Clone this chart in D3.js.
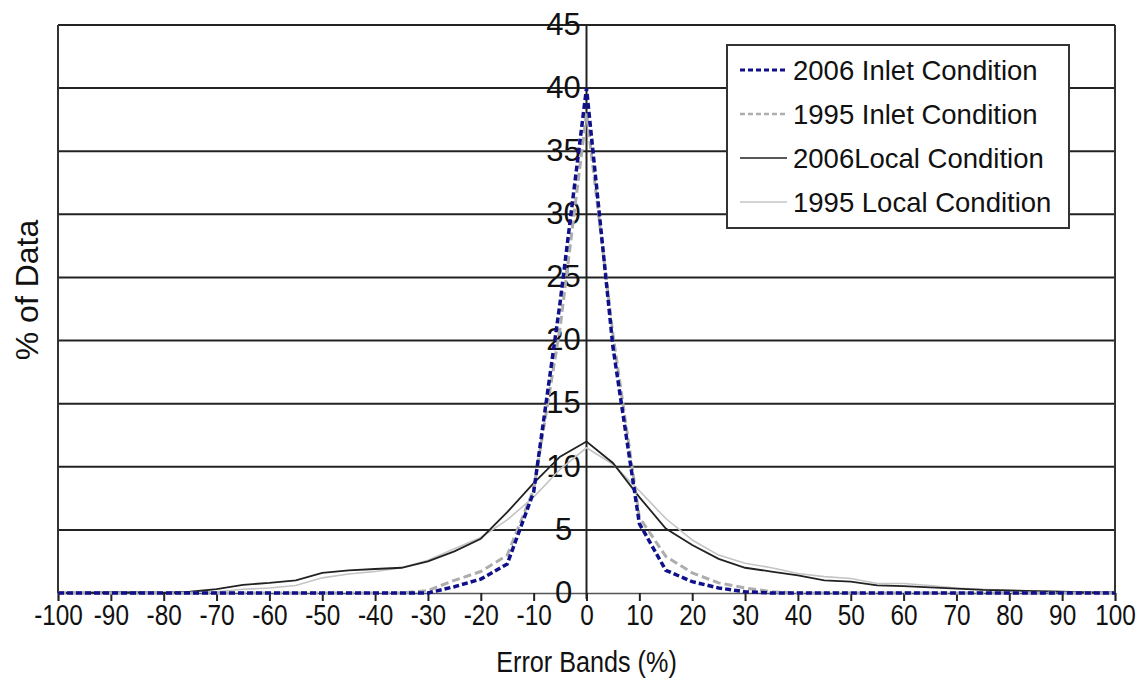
<!DOCTYPE html>
<html>
<head>
<meta charset="utf-8">
<script src="https://cdn.jsdelivr.net/npm/d3@7"></script>
<style>
  body { margin: 0; background: #fff; }
  svg { font-family: "Liberation Sans", Arial, sans-serif; }
</style>
</head>
<body>
<script>
const width = 1146;
const height = 684;
const margins = { top: 25, left: 58, bottom: 91, right: 31 };

// error band bins (%)
const bands = [-100, -95, -90, -85, -80, -75, -70, -65, -60, -55, -50, -45, -40, -35, -30, -25, -20, -15, -10, -5,
  0, 5, 10, 15, 20, 25, 30, 35, 40, 45, 50, 55, 60, 65, 70, 75, 80, 85, 90, 95, 100];

const inlet2006 = [0, 0, 0, 0, 0, 0, 0, 0, 0, 0, 0, 0, 0, 0, 0, 0.5, 1.1, 2.3, 8, 23,
  40, 19.5, 5.5, 1.8, 0.9, 0.4, 0.1, 0, 0, 0, 0, 0, 0, 0, 0, 0, 0, 0, 0, 0, 0];
const inlet1995 = [0, 0, 0, 0, 0, 0, 0, 0, 0, 0, 0, 0, 0, 0, 0.2, 1.0, 1.7, 3, 8.2, 21,
  38, 20.5, 6, 2.9, 1.6, 0.8, 0.4, 0.1, 0, 0, 0, 0, 0, 0, 0, 0, 0, 0, 0, 0, 0];
const local2006 = [0, 0, 0.05, 0.05, 0, 0.1, 0.3, 0.65, 0.8, 1.0, 1.6, 1.8, 1.9, 2.0, 2.5, 3.3, 4.3, 6.4, 8.7, 10.8,
  12.0, 10.3, 7.6, 5.1, 3.8, 2.7, 2.0, 1.7, 1.4, 1.0, 0.9, 0.6, 0.55, 0.45, 0.35, 0.25, 0.2, 0.15, 0.1, 0.05, 0.05];
const local1995 = [0.1, 0.1, 0.1, 0.1, 0.1, 0.1, 0.1, 0.3, 0.4, 0.6, 1.2, 1.5, 1.7, 2.0, 2.6, 3.5, 4.4, 5.8, 7.6, 9.8,
  11.5, 10.2, 8.1, 5.9, 4.2, 3.0, 2.35, 2.0, 1.55, 1.3, 1.15, 0.75, 0.75, 0.6, 0.4, 0.3, 0.2, 0.15, 0.1, 0.1, 0.05];

const xTicks = [-100, -90, -80, -70, -60, -50, -40, -30, -20, -10, 0, 10, 20, 30, 40, 50, 60, 70, 80, 90, 100];
const yTicks = [0, 5, 10, 15, 20, 25, 30, 35, 40, 45];

const seriesNames = ["2006 Inlet Condition", "1995 Inlet Condition", "2006Local Condition", "1995 Local Condition"];

const draw_width = width - margins.left - margins.right;
const draw_height = height - margins.top - margins.bottom;

const series = [
  { name: seriesNames[3], values: local1995, color: "#c4c4c4", w: 1.6, dash: null },
  { name: seriesNames[2], values: local2006, color: "#222", w: 1.8, dash: null },
  { name: seriesNames[1], values: inlet1995, color: "#adadad", w: 3, dash: "8,4" },
  { name: seriesNames[0], values: inlet2006, color: "#10108a", w: 3.5, dash: "6,3" },
];

const svg = d3.select("body").append("svg")
  .attr("width", width)
  .attr("height", height);

const xScale = d3.scaleLinear().domain([-100, 100]).range([0, draw_width]);
const yScale = d3.scaleLinear().domain([0, 45]).range([draw_height, 0]);

const chart_g = svg.append("g")
  .attr("transform", "translate(" + margins.left + "," + margins.top + ")");

// horizontal grid lines
chart_g.append("g")
  .selectAll("line")
  .data(yTicks.filter(d => d > 0))
  .join("line")
  .attr("x1", 0)
  .attr("x2", draw_width)
  .attr("y1", d => yScale(d))
  .attr("y2", d => yScale(d))
  .attr("stroke", "#222")
  .attr("stroke-width", 2);

// frame sides
chart_g.append("line")
  .attr("x1", 0).attr("x2", 0).attr("y1", 0).attr("y2", draw_height)
  .attr("stroke", "#333").attr("stroke-width", 2);
chart_g.append("line")
  .attr("x1", draw_width).attr("x2", draw_width).attr("y1", 0).attr("y2", draw_height)
  .attr("stroke", "#333").attr("stroke-width", 2);

// x axis
const xAxis = d3.axisBottom(xScale)
  .tickValues(xTicks)
  .tickFormat(d => String(d))
  .tickSize(8)
  .tickPadding(3);
const x_g = chart_g.append("g")
  .attr("class", "x_axis")
  .attr("transform", "translate(0," + draw_height + ")")
  .call(xAxis);
x_g.select(".domain").attr("stroke", "#555").attr("stroke-width", 1.5);
x_g.selectAll(".tick line").attr("stroke", "#222").attr("stroke-width", 2);
x_g.selectAll(".tick text")
  .attr("font-size", 29)
  .attr("transform", "scale(0.84,1)")
  .attr("fill", "#111")
  .attr("font-family", "Liberation Sans, Arial, sans-serif");

// y axis sits on x = 0
const yAxis = d3.axisLeft(yScale)
  .tickValues(yTicks)
  .tickFormat(d => String(d))
  .tickSize(0)
  .tickPadding(0);
const y_g = chart_g.append("g")
  .attr("class", "y_axis")
  .attr("transform", "translate(" + xScale(0) + ",0)")
  .call(yAxis);
y_g.select(".domain").remove();
y_g.selectAll(".tick text")
  .attr("x", -23)
  .attr("dy", "0.3em")
  .attr("text-anchor", "middle")
  .attr("font-size", 31)
  .attr("fill", "#111")
  .attr("font-family", "Liberation Sans, Arial, sans-serif");
chart_g.append("line")
  .attr("x1", xScale(0)).attr("x2", xScale(0))
  .attr("y1", 0).attr("y2", draw_height + 6)
  .attr("stroke", "#222").attr("stroke-width", 2);

// series lines
const line = d3.line()
  .x((d, i) => xScale(bands[i]))
  .y(d => yScale(d));

chart_g.selectAll(".series")
  .data(series)
  .join("path")
  .attr("class", "series")
  .attr("d", d => line(d.values))
  .attr("fill", "none")
  .attr("stroke", d => d.color)
  .attr("stroke-width", d => d.w)
  .attr("stroke-dasharray", d => d.dash);

// legend
const legend = svg.append("g").attr("transform", "translate(727,45)");
legend.append("rect")
  .attr("width", 342)
  .attr("height", 183)
  .attr("fill", "#fff")
  .attr("stroke", "#333")
  .attr("stroke-width", 2);
const legendOrder = [series[3], series[2], series[1], series[0]];
const items = legend.selectAll(".item")
  .data(legendOrder)
  .join("g")
  .attr("class", "item")
  .attr("transform", (d, i) => "translate(0," + (25 + i * 44) + ")");
items.append("line")
  .attr("x1", 13).attr("x2", 60)
  .attr("stroke", d => d.color)
  .attr("stroke-width", d => d.w * 0.8)
  .attr("stroke-dasharray", d => d.dash ? "5,3" : null);
items.append("text")
  .attr("x", 66)
  .attr("dy", "0.36em")
  .attr("font-size", 27.5)
  .attr("fill", "#111")
  .text(d => d.name);

// axis titles
svg.append("text")
  .attr("transform", "translate(" + (margins.left + xScale(0)) + ",672) scale(0.84,1)")
  .attr("text-anchor", "middle")
  .attr("font-size", 30)
  .attr("fill", "#111")
  .text("Error Bands (%)");

svg.append("text")
  .attr("transform", "translate(38,290) rotate(-90)")
  .attr("text-anchor", "middle")
  .attr("font-size", 32)
  .attr("fill", "#111")
  .text("% of Data");
</script>
</body>
</html>
